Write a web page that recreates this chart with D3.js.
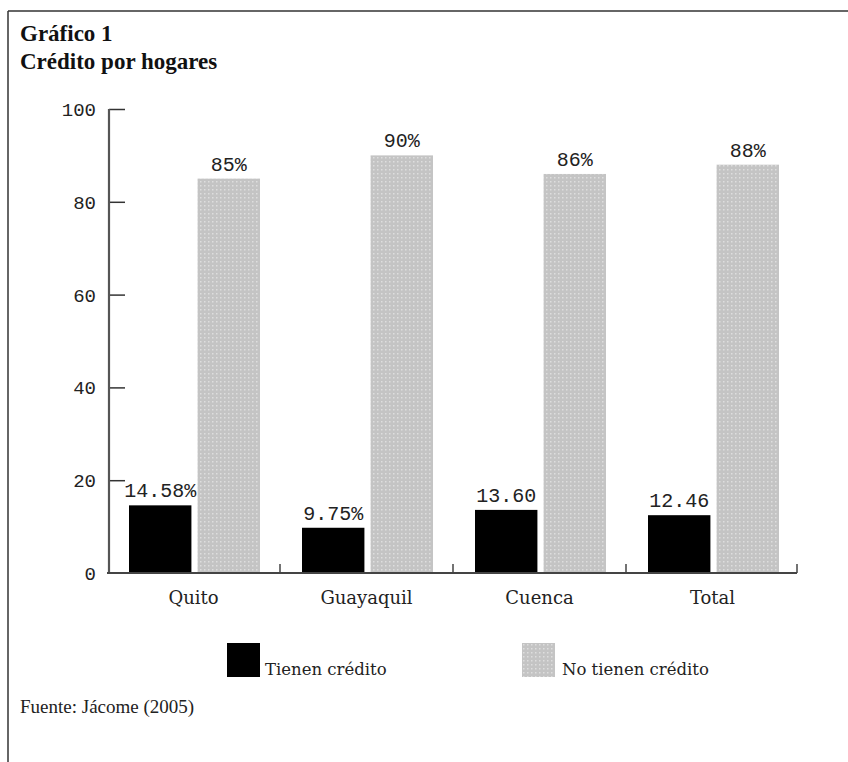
<!DOCTYPE html>
<html><head><meta charset="utf-8">
<script src="https://cdn.jsdelivr.net/npm/d3@7"></script>
<style>
html,body{margin:0;padding:0;background:#fff;}
svg{display:block;}
</style></head>
<body>
<script>
const categories = ["Quito", "Guayaquil", "Cuenca", "Total"];
const seriesNames = ["Tienen crédito", "No tienen crédito"];
const tieneCredito = [14.58, 9.75, 13.60, 12.46];
const noTieneCredito = [85, 90, 86, 88];
const labelsTiene = ["14.58%", "9.75%", "13.60", "12.46"];
const labelsNoTiene = ["85%", "90%", "86%", "88%"];
const yTicks = [0, 20, 40, 60, 80, 100];

const W = 848, H = 762;
const svg = d3.select("body").append("svg").attr("width", W).attr("height", H);

const defs = svg.append("defs");
const pat = defs.append("pattern").attr("id", "dots").attr("patternUnits", "userSpaceOnUse")
  .attr("width", 4).attr("height", 4);
pat.append("rect").attr("width", 4).attr("height", 4).attr("fill", "#c4c4c4");
pat.append("rect").attr("x", 1).attr("y", 1).attr("width", 1.5).attr("height", 1.5).attr("fill", "#dedede");

const colors = ["#000000", "url(#dots)"];

// frame
svg.append("line").attr("x1", 8).attr("x2", W).attr("y1", 11).attr("y2", 11).attr("stroke", "#333").attr("stroke-width", 1.5);
svg.append("line").attr("x1", 8).attr("x2", 8).attr("y1", 11).attr("y2", H).attr("stroke", "#333").attr("stroke-width", 1.5);

// titles
svg.append("text").attr("x", 20).attr("y", 41).text("Gráfico 1")
  .attr("font-family", "Liberation Serif").attr("font-weight", "bold").attr("font-size", 23).attr("fill", "#111");
svg.append("text").attr("x", 20).attr("y", 69).text("Crédito por hogares")
  .attr("font-family", "Liberation Serif").attr("font-weight", "bold").attr("font-size", 23).attr("fill", "#111");

const y = d3.scaleLinear().domain([0, 100]).range([573, 109]);
const x = d3.scaleBand().domain(categories).range([107, 799]).padding(0);
const xs = d3.scaleBand().domain(seriesNames).range([22, 153]).paddingInner(0.09);

const data = categories.map((c, i) => ({
  cat: c,
  vals: [
    {s: seriesNames[0], v: tieneCredito[i], lab: labelsTiene[i], k: 0},
    {s: seriesNames[1], v: noTieneCredito[i], lab: labelsNoTiene[i], k: 1}
  ]
}));

const g = svg.append("g");
const groups = g.selectAll("g.grp").data(data).enter().append("g")
  .attr("transform", d => `translate(${x(d.cat)},0)`);

groups.selectAll("rect").data(d => d.vals).enter().append("rect")
  .attr("x", d => xs(d.s)).attr("width", xs.bandwidth())
  .attr("y", d => y(d.v)).attr("height", d => y(0) - y(d.v))
  .attr("fill", d => colors[d.k]);

groups.selectAll("text.val").data(d => d.vals).enter().append("text")
  .attr("class", "val")
  .attr("x", d => xs(d.s) + xs.bandwidth() / 2)
  .attr("y", d => y(d.v) - 8)
  .attr("text-anchor", "middle")
  .attr("font-family", "Liberation Mono").attr("font-size", 20).attr("fill", "#222")
  .text(d => d.lab);

// y axis
const yAxis = d3.axisRight(y).tickValues(yTicks.filter(t => t > 0)).tickSize(16).tickFormat("");
const ya = svg.append("g").attr("transform", "translate(109,0)").call(yAxis);
ya.select(".domain").remove();
ya.selectAll(".tick line").attr("stroke", "#333").attr("stroke-width", 1.5);
svg.append("line").attr("x1", 109).attr("x2", 109).attr("y1", y(100)).attr("y2", y(0))
  .attr("stroke", "#555").attr("stroke-width", 2.2);
svg.append("g").selectAll("text").data(yTicks).enter().append("text")
  .attr("x", 96).attr("y", d => y(d) + 7).attr("text-anchor", "end")
  .attr("font-family", "Liberation Mono").attr("font-size", 19).attr("fill", "#222")
  .text(d => d);

// x axis
svg.append("line").attr("x1", 107).attr("x2", 797).attr("y1", y(0)).attr("y2", y(0))
  .attr("stroke", "#444").attr("stroke-width", 2);
const xa = svg.append("g").attr("transform", `translate(0,${y(0)})`)
  .call(d3.axisBottom(x).tickSize(0).tickPadding(0));
xa.select(".domain").remove();
xa.selectAll(".tick text")
  .attr("y", 31).attr("dy", 0)
  .attr("font-family", "DejaVu Serif").attr("font-size", 18).attr("fill", "#222");
// boundary ticks
svg.append("g").selectAll("line").data(categories).enter().append("line")
  .attr("x1", d => Math.min(x(d) + x.bandwidth(), 797)).attr("x2", d => Math.min(x(d) + x.bandwidth(), 797))
  .attr("y1", y(0)).attr("y2", y(0) - 9)
  .attr("stroke", "#444").attr("stroke-width", 1.5);

// legend
const legendX = [227, 522];
const lg = svg.append("g").selectAll("g").data(seriesNames).enter().append("g")
  .attr("transform", (d, i) => `translate(${legendX[i]},643)`);
lg.append("rect").attr("width", 33).attr("height", 34).attr("fill", (d, i) => colors[i]);
lg.append("text").attr("x", (d, i) => i === 0 ? 38 : 40).attr("y", 32)
  .attr("font-family", "DejaVu Serif").attr("font-size", 16.5).attr("fill", "#222")
  .text(d => d);

// source
svg.append("text").attr("x", 20).attr("y", 713).text("Fuente: Jácome (2005)")
  .attr("font-family", "Liberation Serif").attr("font-size", 19).attr("fill", "#222");
</script>
</body></html>
